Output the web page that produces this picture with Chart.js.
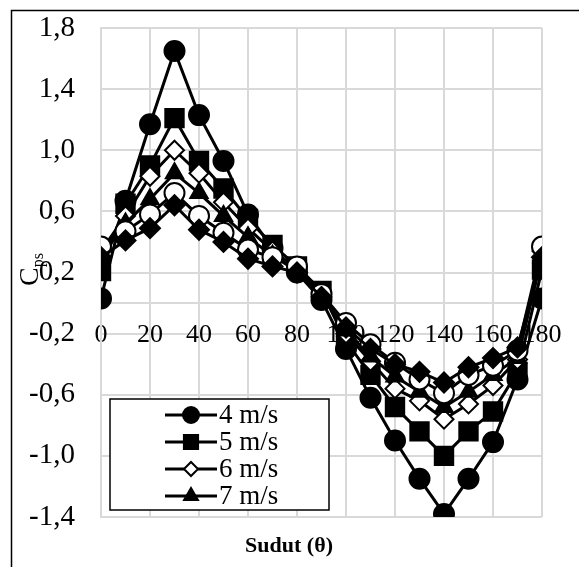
<!DOCTYPE html>
<html>
<head>
<meta charset="utf-8">
<script src="https://cdn.jsdelivr.net/npm/chart.js@4/dist/chart.umd.min.js"></script>
<style>
  html, body { margin: 0; padding: 0; background: #fff; }
  canvas { display: block; }
</style>
</head>
<body>
<canvas id="chart" width="579" height="567"></canvas>
<script>
const angles = [0, 10, 20, 30, 40, 50, 60, 70, 80, 90, 100, 110, 120, 130, 140, 150, 160, 170, 180];
const speeds = ['4 m/s', '5 m/s', '6 m/s', '7 m/s', '8 m/s', '9 m/s'];
const cp4 = [0.03, 0.67, 1.17, 1.65, 1.23, 0.93, 0.58, 0.36, 0.20, 0.02, -0.30, -0.62, -0.90, -1.15, -1.38, -1.15, -0.91, -0.50, 0.03];
const cp5 = [0.21, 0.65, 0.90, 1.21, 0.93, 0.75, 0.55, 0.38, 0.24, 0.08, -0.25, -0.47, -0.68, -0.84, -1.00, -0.84, -0.71, -0.45, 0.22];
const cp6 = [0.34, 0.57, 0.83, 1.00, 0.85, 0.66, 0.49, 0.34, 0.23, 0.06, -0.20, -0.38, -0.56, -0.64, -0.76, -0.66, -0.54, -0.37, 0.34];
const cp7 = [0.30, 0.52, 0.68, 0.85, 0.72, 0.57, 0.43, 0.31, 0.21, 0.05, -0.18, -0.35, -0.48, -0.58, -0.68, -0.58, -0.47, -0.36, 0.30];
const cp8 = [0.37, 0.47, 0.58, 0.72, 0.57, 0.46, 0.35, 0.30, 0.24, 0.06, -0.13, -0.27, -0.39, -0.50, -0.59, -0.47, -0.41, -0.31, 0.37];
const cp9 = [0.30, 0.41, 0.49, 0.64, 0.48, 0.40, 0.29, 0.24, 0.20, 0.04, -0.16, -0.30, -0.40, -0.45, -0.52, -0.42, -0.36, -0.29, 0.30];
const yTicks = [-1.4, -1.0, -0.6, -0.2, 0.2, 0.6, 1.0, 1.4, 1.8];
const xTitle = 'Sudut (θ)';

const series = [cp4, cp5, cp6, cp7, cp8, cp9];
// marker look per series (legend shows only the first four, like the original)
const markers = [
  { style: 'circle', r: 10, fill: '#000', lr: 8 },
  { style: 'rect', r: 13, fill: '#000', lr: 10 },
  { style: 'rectRot', r: 9.5, fill: '#fff', lr: 7 },
  { style: 'triangle', r: 10, fill: '#000', lr: 8 },
  { style: 'circle', r: 10, fill: '#fff', lr: 8 },
  { style: 'rectRot', r: 10, fill: '#000', lr: 8 }
];
const legendCount = 4;
const serif = '"Liberation Serif", "Times New Roman", serif';

const datasets = series.map(function (vals, i) {
  return {
    label: speeds[i],
    data: angles.map(function (a, j) { return { x: a, y: vals[j] }; }),
    borderColor: '#000',
    borderWidth: 3,
    tension: 0,
    pointStyle: markers[i].style,
    pointRadius: markers[i].r,
    pointBackgroundColor: markers[i].fill,
    pointBorderColor: '#000',
    pointBorderWidth: 2,
    order: series.length - i
  };
});

const extras = {
  id: 'extras',
  afterDraw: function (chart) {
    const ctx = chart.ctx;
    ctx.save();
    // outer frame (only top and left edges are visible)
    ctx.strokeStyle = '#000';
    ctx.lineWidth = 1.5;
    ctx.beginPath();
    ctx.moveTo(11.5, 600);
    ctx.lineTo(11.5, 10.5);
    ctx.lineTo(600, 10.5);
    ctx.stroke();

    // y title: C with subscript ps, rotated
    ctx.fillStyle = '#000';
    ctx.translate(38, 286);
    ctx.rotate(-Math.PI / 2);
    ctx.font = '28px ' + serif;
    ctx.textBaseline = 'alphabetic';
    ctx.textAlign = 'left';
    ctx.fillText('C', 0, 0);
    const cw = ctx.measureText('C').width;
    ctx.font = '16px ' + serif;
    ctx.fillText('ps', cw, 5);
    ctx.setTransform(1, 0, 0, 1, 0, 0);

    // x title
    ctx.font = 'bold 22px ' + serif;
    ctx.textAlign = 'center';
    ctx.textBaseline = 'middle';
    ctx.fillText(xTitle, 289, 546);

    // legend box
    const bx = 110, by = 399, bw = 219, bh = 111;
    ctx.fillStyle = '#fff';
    ctx.fillRect(bx, by, bw, bh);
    ctx.strokeStyle = '#000';
    ctx.lineWidth = 1.5;
    ctx.strokeRect(bx, by, bw, bh);
    ctx.font = '27px ' + serif;
    ctx.textAlign = 'left';
    for (let i = 0; i < legendCount; i++) {
      const yy = 415 + i * 27;
      ctx.strokeStyle = '#000';
      ctx.lineWidth = 3;
      ctx.beginPath();
      ctx.moveTo(165, yy);
      ctx.lineTo(217, yy);
      ctx.stroke();
      ctx.fillStyle = markers[i].fill;
      ctx.lineWidth = 2;
      Chart.helpers.drawPoint(ctx, {
        pointStyle: markers[i].style,
        radius: markers[i].lr,
        rotation: 0,
        borderWidth: 2
      }, 191, yy);
      ctx.fillStyle = '#000';
      ctx.fillText(chart.data.datasets[i].label, 219, yy + 1);
    }
    ctx.restore();
  }
};

new Chart(document.getElementById('chart').getContext('2d'), {
  type: 'line',
  data: { datasets: datasets },
  options: {
    responsive: false,
    animation: false,
    devicePixelRatio: 1,
    layout: { padding: { top: 28, right: 37, bottom: 50, left: 0 } },
    plugins: {
      legend: { display: false },
      tooltip: { enabled: false }
    },
    scales: {
      x: {
        type: 'linear',
        position: { y: 0 },
        min: 0,
        max: 180,
        afterFit: function (scale) { scale.height = 0; },
        grid: { color: '#d9d9d9', lineWidth: 2, drawTicks: false },
        border: { color: '#d9d9d9', width: 2 },
        ticks: {
          stepSize: 20,
          padding: 17,
          color: '#000',
          maxRotation: 0,
          autoSkip: false,
          font: { family: serif, size: 26 }
        }
      },
      y: {
        type: 'linear',
        min: -1.4,
        max: 1.8,
        afterBuildTicks: function (scale) {
          scale.ticks = yTicks.map(function (v) { return { value: v }; });
        },
        afterFit: function (scale) {
          scale.width = 101;
          scale.paddingTop = 0;
          scale.paddingBottom = 0;
        },
        grid: { color: '#d9d9d9', lineWidth: 2, drawTicks: false },
        border: { color: '#d9d9d9', width: 2 },
        ticks: {
          padding: 26,
          color: '#000',
          font: { family: serif, size: 29 },
          callback: function (v) { return v.toFixed(1).replace('.', ','); }
        }
      }
    }
  },
  plugins: [extras]
});
</script>
</body>
</html>
